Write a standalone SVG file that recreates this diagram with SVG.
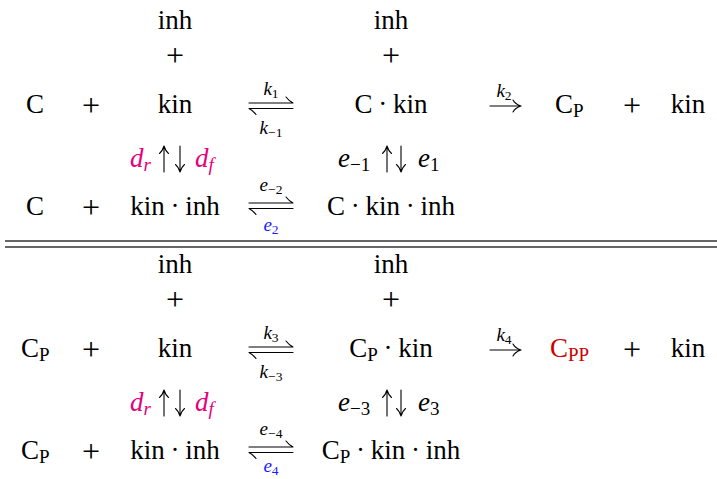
<svg xmlns="http://www.w3.org/2000/svg" width="717" height="479" viewBox="0 0 717 479">
<style>
text{font-family:"Liberation Serif","Times New Roman",serif;font-size:27px;fill:#000;word-spacing:-1px}
.c{text-anchor:middle}
.i{font-style:italic}
.p{font-size:32px}
.s{font-size:19px}
.ls{font-size:19px}
.ss{font-size:13.5px}
.mg{fill:#e6007e}
.bl{fill:#1a1aff}
.rd{fill:#cc0000}
.h{fill:none;stroke:#000;stroke-width:1.1;stroke-linecap:round}
.rule{stroke:#333;stroke-width:1.3}
</style>
<defs>
<g id="eq">
<path class="h" d="M249,0 H293 M293,0 Q289,-2 286,-6"/>
<path class="h" d="M249,5.5 H293 M249,5.5 Q253,7.5 256,11.5"/>
</g>
<path id="fw" class="h" d="M490,0 H521 M521,0 Q515,-2 513,-6 M521,0 Q515,2 513,6"/>
<path id="up" class="h" d="M0,26 V0 M0,0 Q-1.5,5 -4.5,7.5 M0,0 Q1.5,5 4.5,7.5"/>
<path id="dn" class="h" d="M0,0 V26 M0,26 Q-1.5,21 -4.5,18.5 M0,26 Q1.5,21 4.5,18.5"/>
</defs>

<g id="top-block">
<g id="n-inh1"><text class="c" x="175" y="29">inh</text><text class="c p" x="175" y="66">+</text></g>
<g id="n-inh2"><text class="c" x="391" y="29">inh</text><text class="c p" x="391" y="66">+</text></g>
<g id="n-C1"><text class="c" x="35" y="113">C</text></g>
<g id="n-plus1"><text class="c p" x="91" y="116">+</text></g>
<g id="n-kin1"><text class="c" x="175" y="113">kin</text></g>
<g id="n-Ckin"><text class="c" x="391" y="113">C · kin</text></g>
<g id="n-CP1"><text x="555" y="113">C<tspan class="s" dy="4">P</tspan></text></g>
<g id="n-plus2"><text class="c p" x="632" y="116">+</text></g>
<g id="n-kin2"><text class="c" x="688" y="113">kin</text></g>
<g id="n-d1">
<text class="i mg" x="130" y="167">d<tspan class="s" dy="4">r</tspan></text>
<text class="i mg" x="195" y="167">d<tspan class="s" dy="4">f</tspan></text>
</g>
<g id="n-e1">
<text x="338" y="167"><tspan class="i">e</tspan><tspan class="s" dy="4">−1</tspan></text>
<text x="418" y="167"><tspan class="i">e</tspan><tspan class="s" dy="4">1</tspan></text>
</g>
<g id="n-C2"><text class="c" x="35" y="215">C</text></g>
<g id="n-plus3"><text class="c p" x="91" y="218">+</text></g>
<g id="n-kininh1"><text class="c" x="175" y="215">kin · inh</text></g>
<g id="n-Ckininh"><text class="c" x="391" y="215">C · kin · inh</text></g>
</g>

<g id="bottom-block">
<g id="n-inh3"><text class="c" x="175" y="273">inh</text><text class="c p" x="175" y="310">+</text></g>
<g id="n-inh4"><text class="c" x="391" y="273">inh</text><text class="c p" x="391" y="310">+</text></g>
<g id="n-CP2"><text x="21" y="357">C<tspan class="s" dy="4">P</tspan></text></g>
<g id="n-plus4"><text class="c p" x="91" y="360">+</text></g>
<g id="n-kin3"><text class="c" x="175" y="357">kin</text></g>
<g id="n-CPkin"><text class="c" x="391" y="357">C<tspan class="s" dy="4">P</tspan><tspan dy="-4"> · kin</tspan></text></g>
<g id="n-CPP"><text class="rd" x="550" y="357">C<tspan class="s" dy="4">PP</tspan></text></g>
<g id="n-plus5"><text class="c p" x="632" y="360">+</text></g>
<g id="n-kin4"><text class="c" x="688" y="357">kin</text></g>
<g id="n-d2">
<text class="i mg" x="130" y="411">d<tspan class="s" dy="4">r</tspan></text>
<text class="i mg" x="195" y="411">d<tspan class="s" dy="4">f</tspan></text>
</g>
<g id="n-e3">
<text x="338" y="411"><tspan class="i">e</tspan><tspan class="s" dy="4">−3</tspan></text>
<text x="418" y="411"><tspan class="i">e</tspan><tspan class="s" dy="4">3</tspan></text>
</g>
<g id="n-CP3"><text x="21" y="459">C<tspan class="s" dy="4">P</tspan></text></g>
<g id="n-plus6"><text class="c p" x="91" y="462">+</text></g>
<g id="n-kininh2"><text class="c" x="175" y="459">kin · inh</text></g>
<g id="n-CPkininh"><text class="c" x="391" y="459">C<tspan class="s" dy="4">P</tspan><tspan dy="-4"> · kin · inh</tspan></text></g>
</g>

<g id="connectors">
<use href="#eq" y="103"/>
<use href="#eq" y="203"/>
<use href="#eq" y="347"/>
<use href="#eq" y="447"/>
<use href="#fw" y="106"/>
<use href="#fw" y="350"/>
<use href="#up" x="164" y="146"/>
<use href="#dn" x="180" y="146"/>
<use href="#up" x="387" y="146"/>
<use href="#dn" x="401" y="146"/>
<use href="#up" x="164" y="390"/>
<use href="#dn" x="180" y="390"/>
<use href="#up" x="387" y="390"/>
<use href="#dn" x="401" y="390"/>
<line class="rule" x1="5" y1="241" x2="717" y2="241"/>
<line class="rule" x1="5" y1="247" x2="717" y2="247"/>
</g>

<g id="labels">
<text class="c" x="271" y="95"><tspan class="i ls">k</tspan><tspan class="ss" dy="3">1</tspan></text>
<text class="c" x="271" y="134"><tspan class="i ls">k</tspan><tspan class="ss" dy="3">−1</tspan></text>
<text class="c" x="504" y="97"><tspan class="i ls">k</tspan><tspan class="ss" dy="3">2</tspan></text>
<text class="c" x="271" y="191"><tspan class="i ls">e</tspan><tspan class="ss" dy="3">−2</tspan></text>
<text class="c bl" x="271" y="231"><tspan class="i ls">e</tspan><tspan class="ss" dy="3">2</tspan></text>
<text class="c" x="271" y="339"><tspan class="i ls">k</tspan><tspan class="ss" dy="3">3</tspan></text>
<text class="c" x="271" y="378"><tspan class="i ls">k</tspan><tspan class="ss" dy="3">−3</tspan></text>
<text class="c" x="504" y="341"><tspan class="i ls">k</tspan><tspan class="ss" dy="3">4</tspan></text>
<text class="c" x="271" y="435"><tspan class="i ls">e</tspan><tspan class="ss" dy="3">−4</tspan></text>
<text class="c bl" x="271" y="472"><tspan class="i ls">e</tspan><tspan class="ss" dy="3">4</tspan></text>
</g>
</svg>
